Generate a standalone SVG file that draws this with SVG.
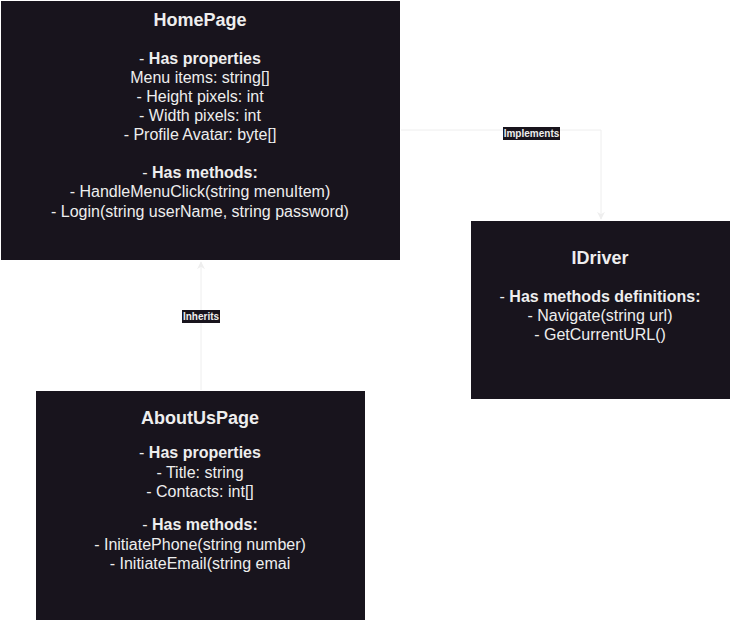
<svg xmlns="http://www.w3.org/2000/svg" width="731" height="621" viewBox="0 0 731 621">
<style>
.box{fill:#18141d;stroke:#ffffff;stroke-width:1}
.t{font-family:"Liberation Sans",Arial,sans-serif;font-size:16px;fill:#eeeeee;text-anchor:middle}
.h{font-size:18px;font-weight:bold}
.b{font-weight:bold}
.edge{fill:none;stroke:#eeeeee;stroke-width:1}
.lbl{font-family:"Liberation Sans",Arial,sans-serif;font-size:10px;font-weight:bold;fill:#eeeeee;text-anchor:middle}
.lb{fill:#18141d}
</style>
<defs>
<marker id="arr" viewBox="0 0 10 10" refX="9" refY="5" markerWidth="8" markerHeight="8" orient="auto" markerUnits="userSpaceOnUse">
<path d="M0,0 L10,5 L0,10 L3,5 Z" fill="#eeeeee"/>
</marker>
</defs>
<rect width="731" height="621" fill="#ffffff"/>
<g id="connectors">
<g id="implements">
<path class="edge" d="M400,130 H601 V219" marker-end="url(#arr)"/>
<rect class="lb" x="503" y="127" width="57" height="13"/>
<text class="lbl" x="531.5" y="137">Implements</text>
</g>
<g id="inherits">
<path class="edge" d="M201,391 V262" marker-end="url(#arr)"/>
<rect class="lb" x="182" y="310" width="38" height="13"/>
<text class="lbl" x="201" y="320">Inherits</text>
</g>
</g>
<g id="HomePage">
<rect class="box" x="0.5" y="0.5" width="400" height="260"/>
<text class="t h" x="200" y="26">HomePage</text>
<text class="t" x="200" y="64">- <tspan class="b">Has properties</tspan></text>
<text class="t" x="200" y="83">Menu items: string[]</text>
<text class="t" x="200" y="102">- Height pixels: int</text>
<text class="t" x="200" y="121">- Width pixels: int</text>
<text class="t" x="200" y="140">- Profile Avatar: byte[]</text>
<text class="t" x="200" y="178">- <tspan class="b">Has methods:</tspan></text>
<text class="t" x="200" y="197">- HandleMenuClick(string menuItem)</text>
<text class="t" x="200" y="217">- Login(string userName, string password)</text>
</g>
<g id="IDriver">
<rect class="box" x="470.5" y="220.5" width="260" height="179"/>
<text class="t h" x="600" y="264">IDriver</text>
<text class="t" x="600" y="302">- <tspan class="b">Has methods definitions:</tspan></text>
<text class="t" x="600" y="321">- Navigate(string url)</text>
<text class="t" x="600" y="340">- GetCurrentURL()</text>
</g>
<g id="AboutUsPage">
<rect class="box" x="35.5" y="390.5" width="330" height="230"/>
<text class="t h" x="200" y="424">AboutUsPage</text>
<text class="t" x="200" y="458">- <tspan class="b">Has properties</tspan></text>
<text class="t" x="200" y="478">- Title: string</text>
<text class="t" x="200" y="497">- Contacts: int[]</text>
<text class="t" x="200" y="530">- <tspan class="b">Has methods:</tspan></text>
<text class="t" x="200" y="550">- InitiatePhone(string number)</text>
<text class="t" x="200" y="569">- InitiateEmail(string emai</text>
</g>
</svg>
